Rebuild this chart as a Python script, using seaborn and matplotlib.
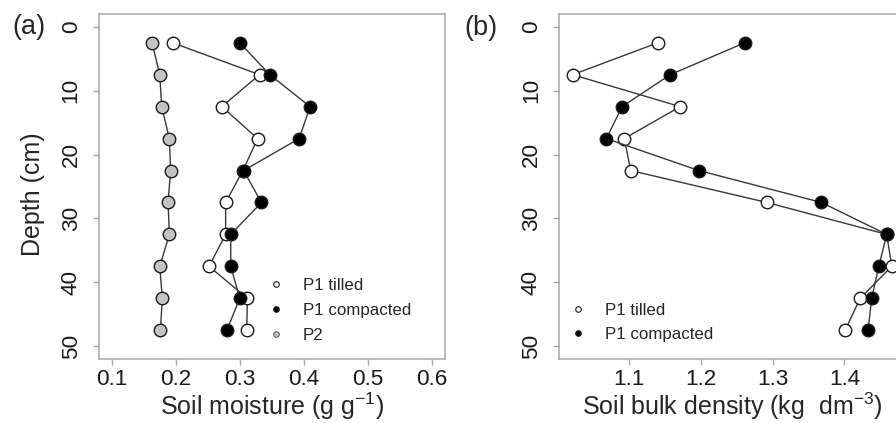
import matplotlib
matplotlib.use("Agg")
import matplotlib.pyplot as plt
from matplotlib.lines import Line2D
import seaborn as sns
import pandas as pd

# ---------------- data ----------------
depth = [2.5, 7.5, 12.5, 17.5, 22.5, 27.5, 32.5, 37.5, 42.5, 47.5]

moist_tilled = [0.195, 0.331, 0.272, 0.328, 0.305, 0.278, 0.278, 0.252, 0.312, 0.311]
moist_compacted = [0.300, 0.347, 0.410, 0.393, 0.306, 0.334, 0.286, 0.286, 0.300, 0.280]
moist_p2 = [0.163, 0.175, 0.178, 0.190, 0.192, 0.188, 0.190, 0.175, 0.179, 0.176]

bd_tilled = [1.140, 1.021, 1.171, 1.093, 1.102, 1.292, 1.459, 1.466, 1.422, 1.401]
bd_compacted = [1.261, 1.157, 1.090, 1.068, 1.197, 1.368, 1.459, 1.448, 1.438, 1.433]

legend_a = ["P1 tilled", "P1 compacted", "P2"]
legend_b = ["P1 tilled", "P1 compacted"]
xticks_a = [0.1, 0.2, 0.3, 0.4, 0.5, 0.6]
xticks_b = [1.1, 1.2, 1.3, 1.4]
yticks = [0, 10, 20, 30, 40, 50]

# ---------------- style ----------------
sns.set_theme(style="white")
plt.rcParams["font.family"] = ["Liberation Sans", "DejaVu Sans"]
plt.rcParams["mathtext.fontset"] = "custom"
plt.rcParams["mathtext.rm"] = "Liberation Sans"

W, H = 896, 423
fig = plt.figure(figsize=(W / 100, H / 100), dpi=100)

def px_rect(l, t, r, b):
    return [l / W, 1 - b / H, (r - l) / W, (b - t) / H]

ax1 = fig.add_axes(px_rect(99, 14, 445, 359))
ax2 = fig.add_axes(px_rect(559.3, 14, 904.5, 359))

FRAME = "#a8a8a8"
LINE = "#383838"
EDGE = "#1a1a1a"
FILL = {"P1 tilled": "white", "P1 compacted": "black", "P2": "#c3c3c3"}

def draw(ax, vals, name, z):
    df = pd.DataFrame({"x": vals, "depth": depth})
    sns.lineplot(data=df, x="x", y="depth", sort=False, estimator=None, ax=ax,
                 color=LINE, linewidth=1.0, marker="o", markersize=9.0,
                 markerfacecolor=FILL[name], markeredgecolor=EDGE,
                 markeredgewidth=1.0, zorder=z)

draw(ax1, moist_p2, "P2", 3)
draw(ax1, moist_tilled, "P1 tilled", 4)
draw(ax1, moist_compacted, "P1 compacted", 5)
draw(ax2, bd_tilled, "P1 tilled", 4)
draw(ax2, bd_compacted, "P1 compacted", 5)

ax1.set_xlim(0.080, 0.621)
ax2.set_xlim(1.0024, 1.4838)
ax1.set_xticks(xticks_a)
ax1.set_xticklabels([f"{v:.1f}" for v in xticks_a])
ax2.set_xticks(xticks_b)
ax2.set_xticklabels([f"{v:.1f}" for v in xticks_b])
for ax in (ax1, ax2):
    ax.set_ylim(52, -2)
    ax.set_yticks(yticks)
    ax.set_yticklabels([str(v) for v in yticks])
    for s in ax.spines.values():
        s.set_color(FRAME)
        s.set_linewidth(1.1)
    ax.tick_params(axis="both", colors=FRAME, labelcolor="#1a1a1a",
                   length=4, width=1.0, labelsize=16.2, direction="out")
    ax.tick_params(axis="x", pad=3, bottom=True)
    ax.tick_params(axis="y", pad=8.5, left=True)
    for lab in ax.get_yticklabels():
        lab.set_rotation(90)
        lab.set_va("center")
    ax.set_facecolor("white")

ax1.set_xlabel(r"Soil moisture (g g$^{\mathregular{-1}}$)", fontsize=18, va="center")
ax1.xaxis.set_label_coords(0.5, (359 - 406) / 345)
ax2.set_xlabel(r"Soil bulk density (kg  dm$^{\mathregular{-3}}$)", fontsize=18, va="center")
ax2.xaxis.set_label_coords((732 - 559.3) / 345.2, (359 - 406) / 345)
ax1.set_ylabel("Depth (cm)", fontsize=18, va="center")
ax1.yaxis.set_label_coords((33 - 99) / 346, 1 - (194 - 14) / 345)
ax2.set_ylabel("")

fig.text(29 / W, 1 - 27 / H, "(a)", fontsize=19.5, ha="center", va="center")
fig.text(481 / W, 1 - 28 / H, "(b)", fontsize=19.5, ha="center", va="center")

# ---------------- legends ----------------
def make_legend(ax, names, left, top):
    handles = [Line2D([], [], linestyle="none", marker="o", markersize=4.0,
                      markerfacecolor=FILL[n], markeredgecolor=EDGE if n != "P2" else "#666666",
                      markeredgewidth=0.8) for n in names]
    ax.legend(handles, names, frameon=False, fontsize=12.2, loc="upper left",
              bbox_to_anchor=(left / W, 1 - top / H), bbox_transform=fig.transFigure,
              borderpad=0, borderaxespad=0, handlelength=1.0, handletextpad=1.1,
              labelspacing=0.58)

make_legend(ax1, legend_a, 267.1, 278.3)
make_legend(ax2, legend_b, 569.7, 302.6)

fig.savefig("out.png", dpi=100, facecolor="white")
